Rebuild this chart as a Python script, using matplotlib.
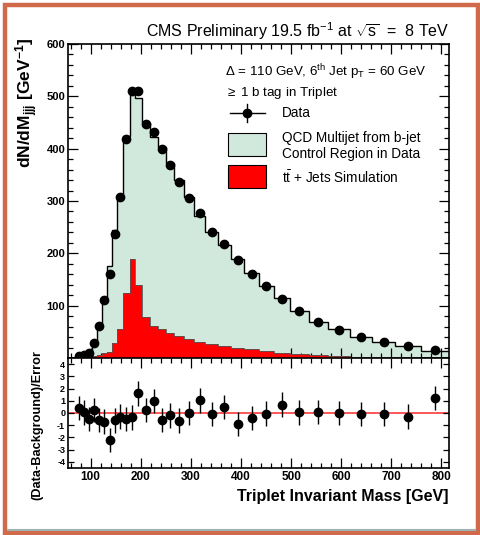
import numpy as np
import matplotlib.pyplot as plt
from matplotlib.patches import Rectangle
from matplotlib.lines import Line2D
from matplotlib.ticker import MultipleLocator

plt.rcParams['font.family'] = ['Liberation Sans', 'DejaVu Sans']
plt.rcParams['mathtext.fontset'] = 'custom'
plt.rcParams['mathtext.rm'] = 'Liberation Sans'
plt.rcParams['mathtext.it'] = 'Liberation Sans:italic'
plt.rcParams['mathtext.bf'] = 'Liberation Sans:bold'

# bin edges of the triplet mass [GeV]
edges = [72, 82, 92, 102, 112, 122, 133, 143, 153, 165, 178, 189, 202, 218,
         235, 250, 267, 286, 307, 329, 354, 380, 407, 436, 465, 498, 535,
         574, 617, 662, 708, 760, 815]

# dN/dM per bin
data = [4, 5, 10, 29, 62, 110, 160, 237, 308, 418, 511, 511, 448, 431, 399,
        369, 337, 306, 277, 241, 218, 187, 161, 138, 113, 89, 69, 54, 41, 30,
        22, 15]
qcd = [3, 6, 12, 28, 65, 115, 176, 244, 312, 424, 514, 496, 450, 422, 404,
       372, 341, 307, 271, 241, 216, 190, 163, 138, 114, 90, 69, 55, 41, 30,
       22, 14]
ttbar = [0.3, 0.8, 1.5, 3, 6, 9, 12, 29, 55, 124, 190, 139, 79, 62, 55, 47,
         42, 36, 30, 26, 23.5, 20, 17, 13, 10, 8, 5, 3, 2, 1, 1, 0.5]

# (Data-Background)/Error per bin
pulls = [0.41, 0.05, -0.5, 0.25, -0.57, -0.7, -2.2, -0.6, -0.3, -0.5, -0.35,
         1.6, 0.25, 1.0, -0.57, -0.2, -0.63, 0.0, 1.04, -0.1, 0.49, -0.88,
         -0.41, -0.05, 0.68, 0.05, 0.1, 0.0, -0.1, -0.1, -0.3, 1.25]

edges = np.array(edges, dtype=float)
centers = 0.5 * (edges[1:] + edges[:-1])
widths = np.diff(edges)
data = np.array(data, dtype=float)
data_err = np.sqrt(data / widths)

W, H = 481, 535
fig = plt.figure(figsize=(W / 100, H / 100), dpi=100)

def fx(px):
    return px / W

def fy(py):
    return 1 - py / H

# slide frame
fig.add_artist(Rectangle((fx(5), fy(533)), fx(473), 528 / H, transform=fig.transFigure,
                         fill=False, edgecolor='#d06a4a', linewidth=3.2))
fig.add_artist(Line2D([fx(8), fx(475)], [fy(529.5), fy(529.5)], transform=fig.transFigure,
                      color='#9fb3b3', linewidth=1.5))

ax = fig.add_axes([fx(68), fy(358), fx(381), 314 / H])
axr = fig.add_axes([fx(68), fy(468), fx(381), 110 / H], sharex=ax)

green = '#d1e8dc'
red = '#ff0000'
ax.stairs(qcd, edges, fill=True, color=green, zorder=1)
ax.stairs(qcd, edges, baseline=None, color='black', linewidth=1.0, zorder=2)
ax.stairs(ttbar, edges, fill=True, color=red, zorder=3)
ax.stairs(ttbar, edges, baseline=None, color='#555555', linewidth=0.6, zorder=4)
ax.errorbar(centers, data, yerr=data_err, fmt='o', color='black',
            markersize=6, elinewidth=1.0, capsize=0, zorder=5)

ax.set_xlim(55, 815)
ax.set_ylim(0, 600)

for a in (ax, axr):
    a.tick_params(which='both', direction='in', top=True, right=True, width=0.9)
    a.tick_params(which='major', length=7)
    a.tick_params(which='minor', length=3.5)
    for s in a.spines.values():
        s.set_linewidth(1.2)

ax.xaxis.set_major_locator(MultipleLocator(100))
ax.xaxis.set_minor_locator(MultipleLocator(20))
ax.yaxis.set_minor_locator(MultipleLocator(20))
ax.tick_params(labelbottom=False)
ax.set_yticks([100, 200, 300, 400, 500, 600])
ax.set_yticklabels(['100', '200', '300', '400', '500', '600'], fontweight='bold', fontsize=8)
ax.tick_params(axis='y', pad=2)

# pull panel
axr.axhline(0, color='#ff3b3b', linewidth=1.2, zorder=1)
axr.errorbar(centers, pulls, yerr=1.0, fmt='o', color='black', markersize=6,
             elinewidth=1.0, capsize=0, zorder=3)
axr.set_ylim(-4.5, 4.5)
axr.set_yticks([4, 3, 2, 1, 0, -1, -2, -3, -4])
axr.set_yticklabels(['4', '3', '2', '1', '0', '-1', '-2', '-3', '-4'],
                    fontweight='bold', fontsize=6.5)
axr.tick_params(axis='y', which='major', length=4, pad=2)
axr.set_xticks([100, 200, 300, 400, 500, 600, 700, 800])
axr.set_xticklabels(['100', '200', '300', '400', '500', '600', '700', '800'],
                    fontweight='bold', fontsize=8.5)
axr.xaxis.set_minor_locator(MultipleLocator(20))
axr.tick_params(axis='x', pad=2)

# axis titles
fig.text(fx(449), fy(497), 'Triplet Invariant Mass [GeV]', ha='right', va='center',
         fontsize=11.5, fontweight='bold')
fig.text(fx(27), fy(37), r'dN/dM$_{\mathbf{jjj}}$ [GeV$^{\mathbf{-1}}$]', rotation=90,
         ha='center', va='top', fontsize=12.5, fontweight='bold')
fig.text(fx(37), fy(425), '(Data-Background)/Error', rotation=90,
         ha='center', va='center', fontsize=9.2, fontweight='bold')

# header and annotations
fig.text(fx(449), fy(31), r'CMS Preliminary 19.5 fb$^{-1}$ at $\sqrt{\mathrm{s}}$  =  8 TeV',
         ha='right', va='center', fontsize=11.5)
fig.text(fx(225), fy(72), r'$\Delta$ = 110 GeV, 6$^{\mathrm{th}}$ Jet p$_{\mathrm{T}}$ = 60 GeV',
         ha='left', va='center', fontsize=9.6)
fig.text(fx(225), fy(93), r'$\geq$ 1 b tag in Triplet', ha='left', va='center', fontsize=9.6)

# legend
fig.add_artist(Line2D([fx(230), fx(265)], [fy(113), fy(113)], transform=fig.transFigure,
                      color='black', linewidth=1.0))
fig.add_artist(Line2D([fx(247), fx(247)], [fy(104), fy(122)], transform=fig.transFigure,
                      color='black', linewidth=1.0))
fig.add_artist(Line2D([fx(247)], [fy(113)], transform=fig.transFigure, marker='o',
                      markersize=6, color='black'))
fig.text(fx(282), fy(113), 'Data', ha='left', va='center', fontsize=9.8)
fig.add_artist(Rectangle((fx(228), fy(156)), fx(38), 23 / H, transform=fig.transFigure,
                         facecolor=green, edgecolor='black', linewidth=0.8))
fig.text(fx(282), fy(138), 'QCD Multijet from b-jet', ha='left', va='center', fontsize=9.8)
fig.text(fx(282), fy(154), 'Control Region in Data', ha='left', va='center', fontsize=9.8)
fig.add_artist(Rectangle((fx(228), fy(188)), fx(38), 23 / H, transform=fig.transFigure,
                         facecolor=red, edgecolor='black', linewidth=0.8))
fig.text(fx(282), fy(178), r't$\bar{\mathrm{t}}$ + Jets Simulation', ha='left', va='center',
         fontsize=9.8)

fig.savefig('out.png', dpi=100)
